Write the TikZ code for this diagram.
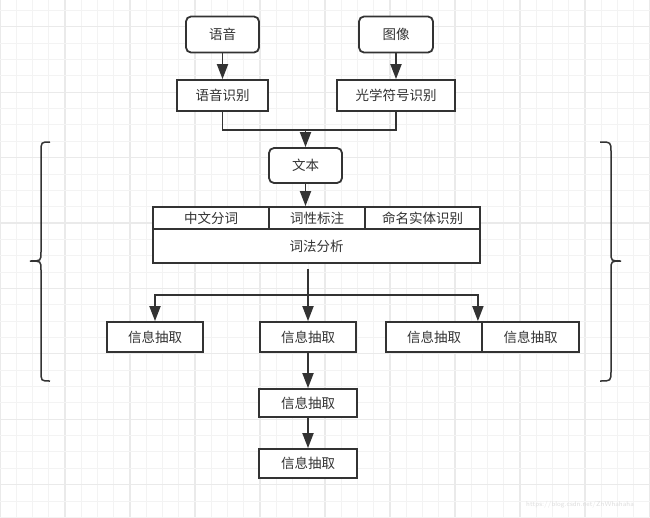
\documentclass[tikz,border=0pt]{standalone}
\usepackage{fontspec}
\newfontfamily\cjk{Noto Sans CJK SC}
\usetikzlibrary{arrows.meta}
\definecolor{ink}{HTML}{333333}
\definecolor{minorgrid}{HTML}{F3F3F3}
\definecolor{majorgrid}{HTML}{EAEAEA}
\begin{document}
\begin{tikzpicture}[x=1pt, y=-1pt,
  every node/.style={font=\cjk\fontsize{13.5}{16}\selectfont, text=ink, align=center, inner sep=0pt},
  box/.style={draw=ink, line width=1.8pt, fill=white},
  roundbox/.style={box, rounded corners=5pt},
  link/.style={draw=ink, line width=1.8pt},
  arrow/.style={link, -{Triangle[length=15pt, width=11pt]}}]
\useasboundingbox (0,0) rectangle (650,517);
\fill[white] (0,0) rectangle (650,517);
\foreach \k in {0,...,40} {
  \pgfmathsetmacro{\gx}{\k*16.25}
  \pgfmathtruncatemacro{\r}{mod(\k,4)}
  \ifnum\r=0
    \draw[majorgrid, line width=1.2pt] (\gx,0) -- (\gx,517);
  \else
    \draw[minorgrid, line width=1pt] (\gx,0) -- (\gx,517);
  \fi
}
\foreach \k in {0,...,31} {
  \pgfmathsetmacro{\gy}{10.5+\k*16.35}
  \pgfmathtruncatemacro{\r}{mod(\k,4)}
  \ifnum\r=1
    \draw[majorgrid, line width=1.2pt] (0,\gy) -- (650,\gy);
  \else
    \draw[minorgrid, line width=1pt] (0,\gy) -- (650,\gy);
  \fi
}
\node[roundbox, minimum width=73pt, minimum height=36pt] (voice) at (222.5,34.5) {语音};
\node[roundbox, minimum width=74pt, minimum height=36pt] (image) at (396,34.5) {图像};
\node[box, minimum width=91pt, minimum height=31pt] (asr) at (222.5,95.5) {语音识别};
\node[box, minimum width=118pt, minimum height=31pt] (ocr) at (396,95.5) {光学符号识别};
\node[roundbox, minimum width=73pt, minimum height=35pt] (text) at (305.5,165.5) {文本};
\node[box, minimum width=116pt, minimum height=22pt] (seg) at (211,218) {中文分词};
\node[box, minimum width=96pt, minimum height=22pt] (pos) at (317,218) {词性标注};
\node[box, minimum width=115pt, minimum height=22pt] (ner) at (422.5,218) {命名实体识别};
\node[box, minimum width=327pt, minimum height=34pt] (lex) at (316.5,246) {词法分析};
\node[box, minimum width=96pt, minimum height=30pt] (ie1) at (155,337) {信息抽取};
\node[box, minimum width=96pt, minimum height=30pt] (ie2) at (308,337) {信息抽取};
\node[box, minimum width=96pt, minimum height=30pt] (ie3) at (434,337) {信息抽取};
\node[box, minimum width=97pt, minimum height=30pt] (ie4) at (530.5,337) {信息抽取};
\node[box, minimum width=98pt, minimum height=28pt] (ie5) at (308,403) {信息抽取};
\node[box, minimum width=98pt, minimum height=29pt] (ie6) at (308,463.5) {信息抽取};
\coordinate (merge) at (305.5,130);
\coordinate (split) at (308,295);
\draw[arrow] (voice) -- (asr);
\draw[arrow] (image) -- (ocr);
\draw[link] (asr.south) |- (merge) -| (ocr.south);
\draw[arrow] (merge) -- (text);
\draw[arrow] (text.south) -- (text.south |- pos.north);
\draw[link, shorten <=5pt] (split |- lex.south) -- (split);
\draw[arrow] (split) -| (ie1.north);
\draw[arrow] (split) -- (ie2);
\draw[arrow] (split) -| ([xshift=-5pt]ie3.north east);
\draw[arrow] (ie2) -- (ie5);
\draw[arrow] (ie5) -- (ie6);
\draw[ink, line width=1.5pt] (50,142) .. controls (41,142) .. (41,152) -- (41,252)
  .. controls (41,261) .. (30,261) .. controls (41,261) .. (41,270) -- (41,371)
  .. controls (41,381) .. (50,381);
\draw[ink, line width=1.5pt] (600,142) .. controls (611,142) .. (611,152) -- (611,252)
  .. controls (611,261) .. (621,261) .. controls (611,261) .. (611,270) -- (611,371)
  .. controls (611,381) .. (600,381);
\node[font=\sffamily\fontsize{7}{8}\selectfont, text=gray!25] (mark) at (580,505) {https://blog.csdn.net/ZhWhahaha};
\end{tikzpicture}
\end{document}
